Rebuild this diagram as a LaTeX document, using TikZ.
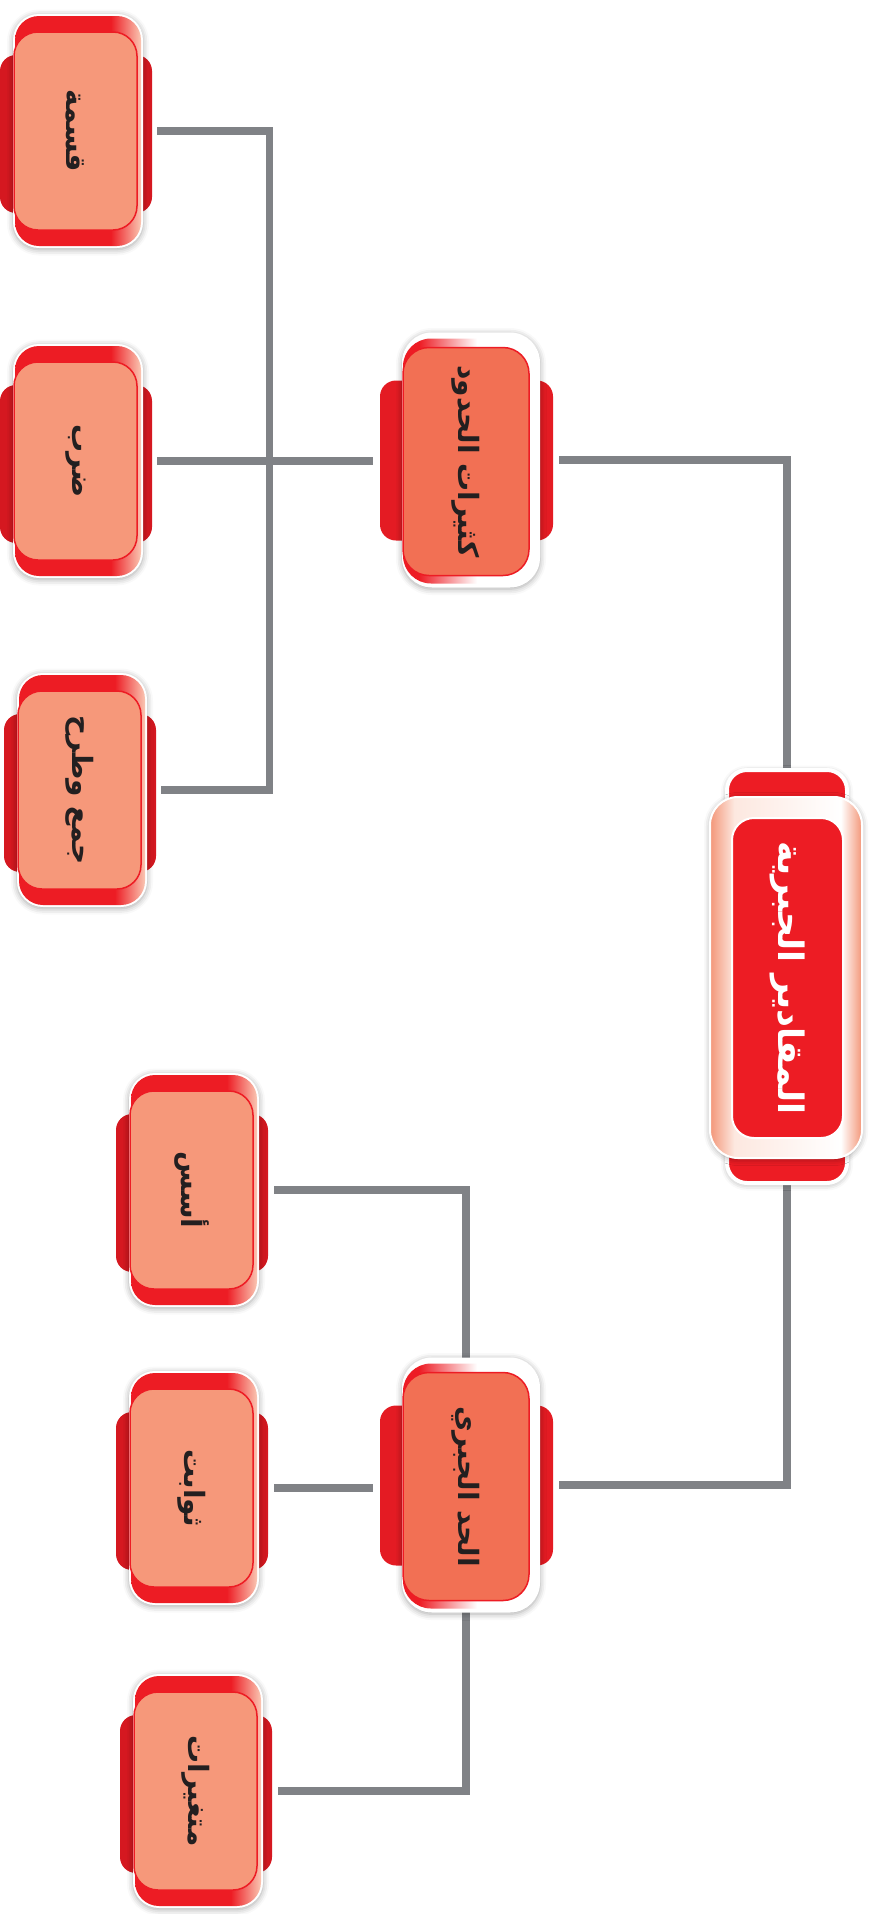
\documentclass[tikz,border=0pt]{standalone}
\usepackage{fontspec}
\usetikzlibrary{shadows.blur,backgrounds,calc}
\newfontfamily\arabicfont[Script=Arabic]{DejaVu Sans}
\TeXXeTstate=1
\definecolor{bandred}{RGB}{237,28,36}
\definecolor{tabdark}{RGB}{213,24,32}
\definecolor{midtab}{RGB}{228,27,35}
\definecolor{leafsalmon}{RGB}{246,152,122}
\definecolor{leaflight}{RGB}{250,198,178}
\definecolor{midcoral}{RGB}{242,112,84}
\definecolor{rootsalmon}{RGB}{243,150,120}
\definecolor{rootlight}{RGB}{253,232,224}
\definecolor{conngray}{RGB}{128,130,134}
\definecolor{txt}{RGB}{35,31,32}
\pgfdeclarehorizontalshading{leafshade}{100bp}{color(0bp)=(bandred); color(25bp)=(bandred); color(63bp)=(bandred); color(75bp)=(leaflight); color(100bp)=(leaflight)}
\pgfdeclarehorizontalshading{midshade}{100bp}{color(0bp)=(bandred); color(25bp)=(bandred); color(31bp)=(bandred); color(53bp)=(white); color(100bp)=(white)}
\pgfdeclarehorizontalshading{rootshade}{100bp}{color(0bp)=(rootsalmon); color(25bp)=(rootsalmon); color(33bp)=(rootlight); color(68bp)=(white); color(75bp)=(rootsalmon); color(100bp)=(rootsalmon)}
\tikzset{
  box/.style={rectangle, inner sep=0pt, outer sep=0pt},
  softshadow/.style={blur shadow={shadow xshift=0pt, shadow yshift=-1.5pt, shadow blur radius=6pt, shadow opacity=35}},
  leaftab/.style={box, minimum width=152pt, minimum height=158pt, rounded corners=16pt, fill=tabdark},
  leafwhite/.style={box, minimum width=130pt, minimum height=234pt, rounded corners=26pt, fill=white, softshadow},
  leafband/.style={box, minimum width=126pt, minimum height=230pt, rounded corners=24pt, shading=leafshade},
  leafin/.style={box, minimum width=123pt, minimum height=198pt, rounded corners=24pt, fill=leafsalmon, draw=bandred, line width=1.5pt},
  leaftext/.style={inner sep=0pt, rotate=-90, text=txt, font=\arabicfont\bfseries\fontsize{28}{34}\selectfont},
  midtabs/.style={box, minimum width=173pt, minimum height=160pt, rounded corners=16pt, fill=midtab},
  midwhite/.style={box, minimum width=138pt, minimum height=255pt, rounded corners=30pt, fill=white, softshadow},
  midband/.style={box, minimum width=132pt, minimum height=245pt, rounded corners=28pt, shading=midshade},
  midin/.style={box, minimum width=126pt, minimum height=228pt, rounded corners=26pt, fill=midcoral, draw=bandred, line width=1.5pt},
  midtext/.style={inner sep=0pt, rotate=-90, text=txt, font=\arabicfont\bfseries\fontsize{28}{34}\selectfont},
  roottab/.style={box, minimum width=120pt, minimum height=413pt, rounded corners=20pt, fill=bandred, draw=white, line width=4pt, softshadow},
  rootouter/.style={box, minimum width=152pt, minimum height=361pt, rounded corners=28pt, shading=rootshade, draw=white, line width=2pt, softshadow},
  rootin/.style={box, minimum width=111pt, minimum height=320pt, rounded corners=22pt, fill=bandred, draw=white, line width=2pt},
  roottext/.style={inner sep=0pt, rotate=-90, text=white, font=\arabicfont\bfseries\fontsize{35}{42}\selectfont},
  conn/.style={draw=conngray, line width=7.5pt, line join=miter}
}
\newcommand\leafbox[4]{%
  \begin{scope}[shift={(#2,#3)}]
    \node[leaftab] (#1tab) at (-2,3) {};
    \node[leafwhite] (#1) at (0,0) {};
    \node[leafband] (#1band) at (0,0) {};
    \node[leafin] (#1in) at (-2.5,0) {};
    \node[leaftext] (#1t) at (-2.5,0) {#4};
  \end{scope}}
\newcommand\midbox[4]{%
  \begin{scope}[shift={(#2,#3)}]
    \node[midtabs] (#1tab) at (-4.5,0.5) {};
    \node[midwhite] (#1) at (0,0) {};
    \node[midband] (#1band) at (-2,1) {};
    \node[midin] (#1in) at (-5,1.5) {};
    \node[midtext] (#1t) at (-5,1.5) {#4};
  \end{scope}}
\begin{document}
\begin{tikzpicture}[x=1pt,y=-1pt]
\useasboundingbox (0,0) rectangle (869,1914);
% root
\node[roottab] (Rtab) at (787,976.5) {};
\node[rootouter] (R) at (786,977.5) {};
\node[rootin] (Rin) at (787.5,978) {};
\node[roottext] (Rt) at (787.5,978) {\beginR المقادير الجبرية\endR};
% middle level
\midbox{M1}{471}{460}{\beginR كثيرات الحدود\endR}
\midbox{M2}{471}{1485}{\beginR الحد الجبري\endR}
% leaves
\leafbox{L1}{78}{131}{\beginR قسمة\endR}
\leafbox{L2}{78}{461}{\beginR ضرب\endR}
\leafbox{L3}{82}{790}{\beginR جمع وطرح\endR}
\leafbox{L4}{194}{1190}{\beginR أسس\endR}
\leafbox{L5}{194}{1488}{\beginR ثوابت\endR}
\leafbox{L6}{198}{1791}{\beginR متغيرات\endR}
\coordinate (J1) at (269.5,462);
\begin{pgfonlayer}{background}
  \draw[conn, shorten <=14pt] (L1.east) -| (J1);
  \draw[conn, shorten <=14pt] (L3.east) -| (J1);
  \draw[conn, shorten <=14pt, shorten >=29pt] (L2.east) -- (L2.east -| M1.west);
  \draw[conn, shorten <=19pt] (M1.east) -| (Rtab.north);
  \draw[conn, shorten >=19pt] (Rtab.south) |- (M2.east);
  \draw[conn, shorten <=15pt] (L4.east) -| (M2in.north);
  \draw[conn, shorten <=15pt] (L6.east) -| (M2in.south);
  \draw[conn, shorten <=15pt, shorten >=29pt] (L5.east) -- (L5.east -| M2.west);
\end{pgfonlayer}
\end{tikzpicture}
\end{document}
